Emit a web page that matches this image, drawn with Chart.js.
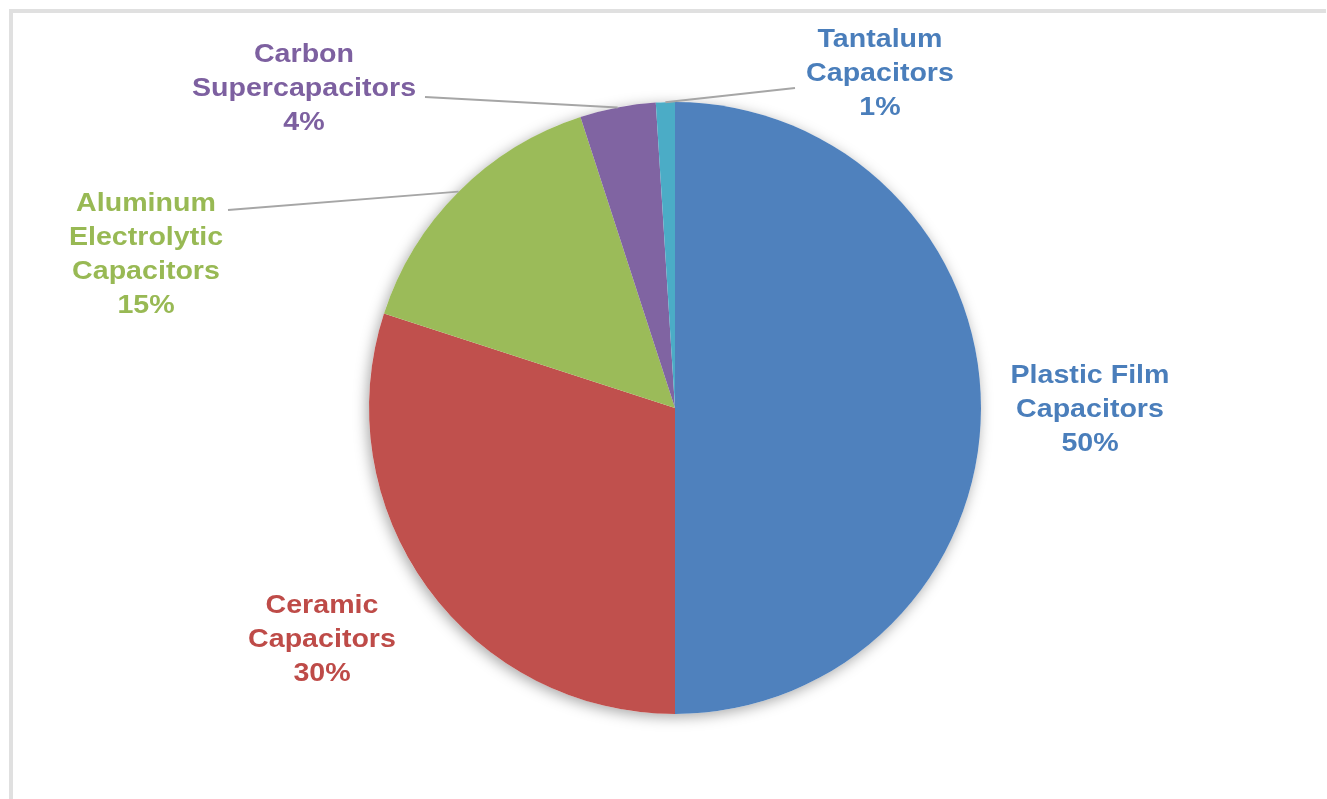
<!DOCTYPE html>
<html lang="en">
<head>
<meta charset="utf-8">
<title>Capacitor market share</title>
<script src="https://cdn.jsdelivr.net/npm/chart.js@4.4.3/dist/chart.umd.min.js"></script>
<style>
  *{box-sizing:border-box;margin:0;padding:0}
  body{background:#fff;width:1327px;height:799px;overflow:hidden;position:relative}
  .frame{position:absolute;left:9px;top:9px;right:1px;bottom:0;border-top:4px solid #e0e0e0;border-left:4px solid #e0e0e0}
  canvas{position:absolute;left:0;top:0}
</style>
</head>
<body>
<div class="frame"></div>
<canvas id="pie" width="1327" height="799"></canvas>
<script>
const categories = ['Plastic Film Capacitors', 'Ceramic Capacitors', 'Aluminum Electrolytic Capacitors', 'Carbon Supercapacitors', 'Tantalum Capacitors']
const shares = [50, 30, 15, 4, 1]
const sliceColors = ['#4F81BD', '#C0504D', '#9BBB59', '#8064A2', '#4BACC6']

// label text lines, colour and placement (centre x, middle of first line y)
const callouts = [
  { lines: ['Plastic Film', 'Capacitors'], color: '#4A7EBB', x: 1090, y: 376 },
  { lines: ['Ceramic', 'Capacitors'], color: '#BE4B48', x: 322, y: 606 },
  { lines: ['Aluminum', 'Electrolytic', 'Capacitors'], color: '#98B954', x: 146, y: 204, lead: [228, 210] },
  { lines: ['Carbon', 'Supercapacitors'], color: '#7D60A0', x: 304, y: 55, lead: [425, 97] },
  { lines: ['Tantalum', 'Capacitors'], color: '#4A7EBB', x: 880, y: 40, lead: [795, 88] },
]

const pieShadow = {
  id: 'pieShadow',
  beforeDatasetsDraw(chart) {
    const arc = chart.getDatasetMeta(0).data[0]
    if (!arc) return
    const ctx = chart.ctx
    ctx.save()
    ctx.shadowColor = 'rgba(0,0,0,0.35)'
    ctx.shadowBlur = 14
    ctx.shadowOffsetX = -2
    ctx.shadowOffsetY = 3
    ctx.fillStyle = '#fff'
    ctx.beginPath()
    ctx.arc(arc.x, arc.y, arc.outerRadius, 0, Math.PI * 2)
    ctx.fill()
    ctx.restore()
  }
}

const calloutLabels = {
  id: 'calloutLabels',
  afterDatasetsDraw(chart) {
    const ctx = chart.ctx
    const meta = chart.getDatasetMeta(0)
    const lineH = 34
    ctx.save()
    callouts.forEach((c, i) => {
      const arc = meta.data[i]
      if (c.lead && arc) {
        const mid = (arc.startAngle + arc.endAngle) / 2
        ctx.strokeStyle = '#a6a6a6'
        ctx.lineWidth = 2
        ctx.beginPath()
        ctx.moveTo(arc.x + Math.cos(mid) * arc.outerRadius, arc.y + Math.sin(mid) * arc.outerRadius)
        ctx.lineTo(c.lead[0], c.lead[1])
        ctx.stroke()
      }
      const text = [...c.lines, shares[i] + '%']
      ctx.fillStyle = c.color
      ctx.font = 'bold 26px "Liberation Sans", Arial, sans-serif'
      ctx.textAlign = 'center'
      ctx.textBaseline = 'middle'
      text.forEach((t, k) => {
        ctx.save()
        ctx.translate(c.x, c.y + k * lineH)
        ctx.scale(1.1, 1)
        ctx.fillText(t, 0, 0)
        ctx.restore()
      })
    })
    ctx.restore()
  }
}

new Chart(document.getElementById('pie'), {
  type: 'pie',
  data: {
    labels: categories,
    datasets: [{ data: shares, backgroundColor: sliceColors, borderWidth: 0 }]
  },
  options: {
    responsive: false,
    animation: false,
    layout: { padding: { top: 102, bottom: 85, left: 369, right: 346 } },
    plugins: { legend: { display: false }, tooltip: { enabled: false } }
  },
  plugins: [pieShadow, calloutLabels]
})
</script>
</body>
</html>
